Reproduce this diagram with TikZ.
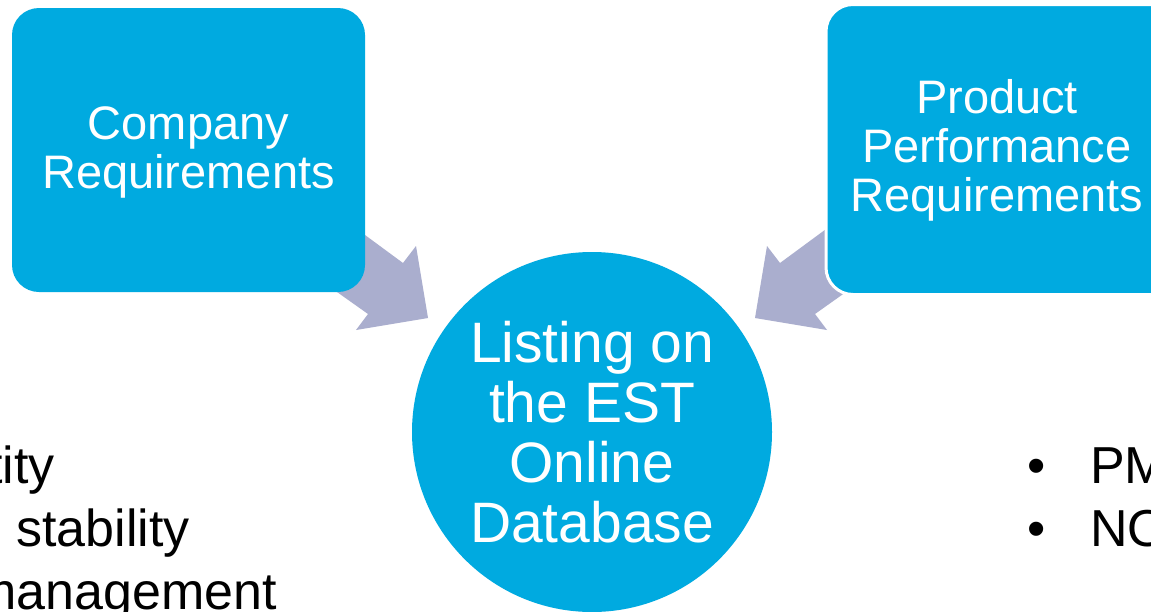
\documentclass[tikz,border=0pt]{standalone}
\usepackage{fontspec}
\setmainfont{Liberation Sans}
\definecolor{boxblue}{RGB}{0,170,224}
\definecolor{arrowgray}{RGB}{170,174,206}
\begin{document}
\begin{tikzpicture}[x=1pt,y=-1pt,
  reqbox/.style={fill=boxblue, rounded corners=27pt, minimum width=353pt, minimum height=284pt, inner sep=0pt},
  boxtext/.style={text=white, align=center, font=\fontsize{47}{49}\selectfont, inner sep=0pt},
  hub/.style={circle, fill=boxblue, minimum size=360pt, inner sep=0pt},
  hubtext/.style={text=white, align=center, font=\fontsize{57}{60}\selectfont, inner sep=0pt},
  bultext/.style={text=black, font=\fontsize{52}{60}\selectfont, inner sep=0pt},
  blockarrow/.style={fill=arrowgray}]
\useasboundingbox (0,0) rectangle (1151,611);
\clip (0,0) rectangle (1151,611);
\fill[white] (0,0) rectangle (1151,611);

% block arrows (behind boxes)
\coordinate (la1) at (327,207);
\coordinate (la2) at (403,263);
\coordinate (la3) at (416,246);
\coordinate (latip) at (428,318);
\coordinate (la5) at (356,330);
\coordinate (la6) at (368,314);
\coordinate (la7) at (306,270);
\fill[blockarrow] (la1) -- (la2) -- (la3) -- (latip) -- (la5) -- (la6) -- (la7) -- cycle;

\coordinate (ra1) at (856,207);
\coordinate (ra2) at (780,263);
\coordinate (ra3) at (767,246);
\coordinate (ratip) at (755,318);
\coordinate (ra5) at (827,330);
\coordinate (ra6) at (815,314);
\coordinate (ra7) at (877,270);
\fill[blockarrow] (ra1) -- (ra2) -- (ra3) -- (ratip) -- (ra5) -- (ra6) -- (ra7) -- cycle;

% boxes
\node[reqbox] (company) at (188.5,150) {};
\node[boxtext] (companytext) at (188.5,152) {Company\\Requirements};
\node[reqbox, draw=white, line width=3pt, minimum height=290pt] (product) at (1002.5,149.5) {};
\node[boxtext] (producttext) at (997,150) {Product\\Performance\\Requirements};

% hub
\node[hub] (hub) at (592,432) {};
\node[hubtext] (hubtext) at (592,432) {Listing on\\the EST\\Online\\Database};

% left bullet text (cut off by the left edge)
\node[bultext, anchor=base east] (l1) at (55,483) {tity};
\node[bultext, anchor=base east] (l2) at (190,546) {stability};
\node[bultext, anchor=base east] (l3) at (277,609) {management};

% right bullets (cut off by the right edge)
\node[bultext, anchor=base] (b1) at (1037,483) {•};
\node[bultext, anchor=base west] (r1) at (1090,483) {PM};
\node[bultext, anchor=base] (b2) at (1037,546) {•};
\node[bultext, anchor=base west] (r2) at (1090,546) {NO};
\end{tikzpicture}
\end{document}
